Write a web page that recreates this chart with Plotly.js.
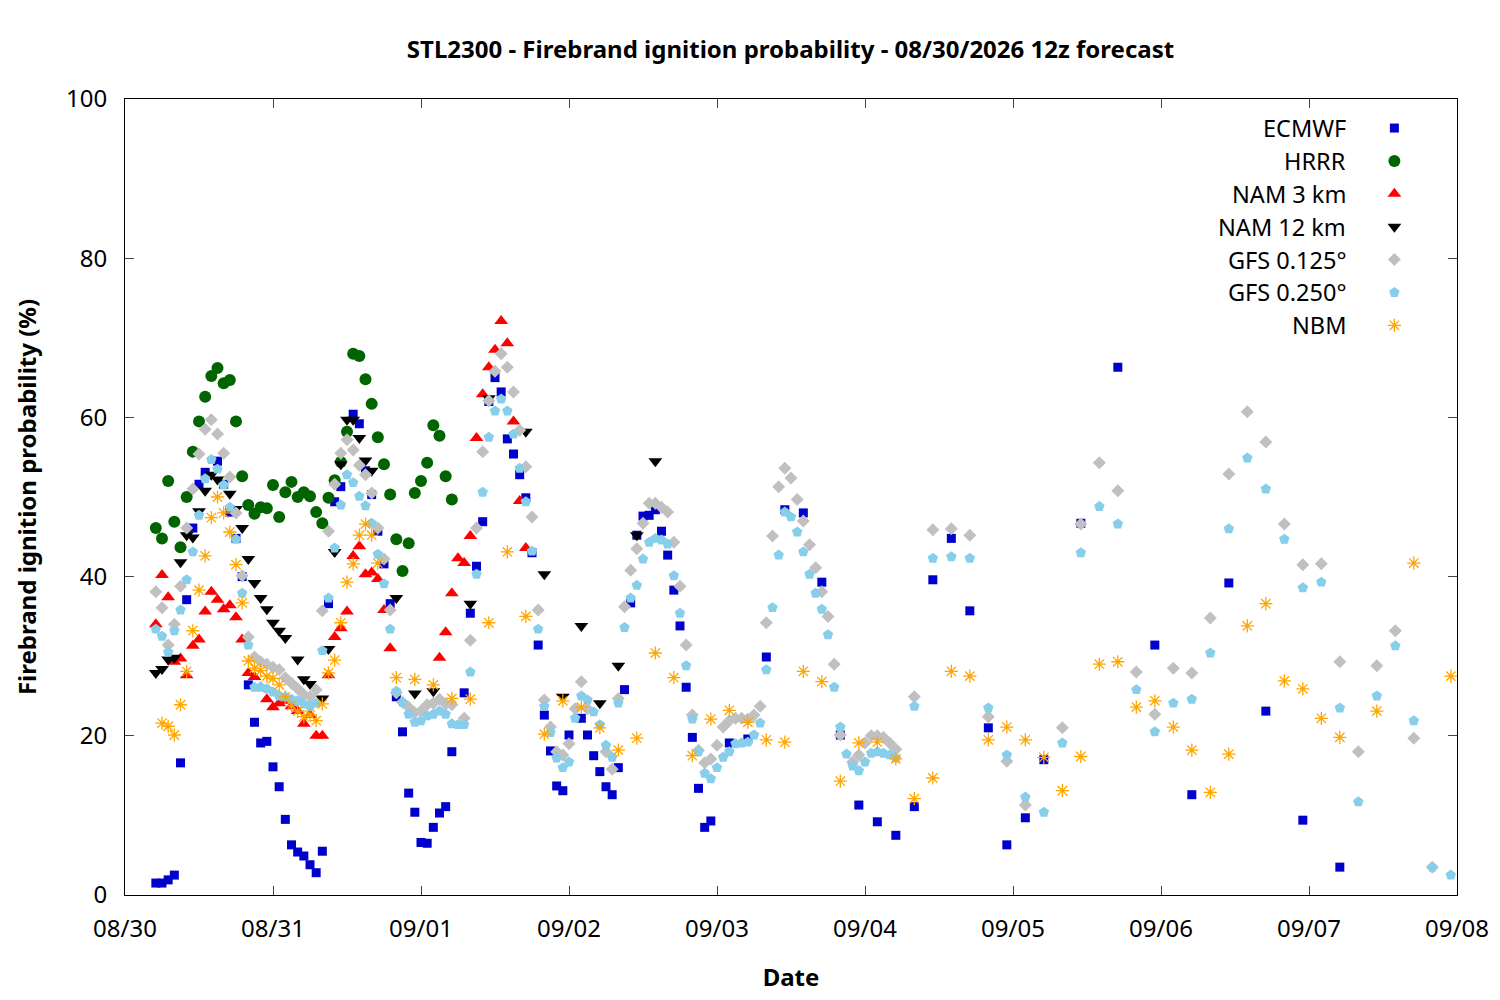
<!DOCTYPE html>
<html>
<head>
<meta charset="utf-8">
<script src="https://cdn.plot.ly/plotly-3.0.1.min.js"></script>
<style>body{margin:0;background:#fff}#chart{width:1500px;height:1000px}</style>
</head>
<body>
<div id="chart"></div>
<script>
// hours since 08/30 00, probability (%)
var dayLabels = ["08/30", "08/31", "09/01", "09/02", "09/03", "09/04", "09/05", "09/06", "09/07", "09/08"];

var ecmwfH = [5,6,7,8,9,10,11,12,13,15,16,17,18,19,20,21,22,23,24,25,26,27,28,29,30,31,32,33,34,35,37,38,39,40,41,42,43,44,45,46,47,48,49,50,51,52,53,55,56,57,58,59,60,61,62,63,64,65,66,67,68,69,70,71,72,74,75,76,77,78,79,80,81,82,83,84,85,86,87,88,89,90,91,92,93,94,95,98,101,104,107,110,113,116,119,122,125,128,131,134,137,140,143,146,149,155,161,167,173,179,185,191,197];
var ecmwfV = [1.5,1.5,1.9,2.5,16.6,37.1,46.1,51.6,53.1,54.5,51.6,48.1,44.8,40.0,26.4,21.7,19.1,19.3,16.1,13.6,9.5,6.3,5.4,4.9,3.8,2.8,5.5,36.6,49.4,51.3,60.4,59.2,53.3,50.3,45.7,41.6,36.6,24.9,20.5,12.8,10.4,6.6,6.5,8.5,10.3,11.1,18.0,25.4,35.4,41.3,46.9,62.0,65.0,63.2,57.3,55.4,52.8,49.9,43.0,31.4,22.6,18.1,13.7,13.1,20.1,22.2,20.1,17.5,15.5,13.6,12.6,16.0,25.8,36.7,45.2,47.6,47.7,48.4,45.7,42.7,38.3,33.8,26.1,19.8,13.4,8.5,9.3,19.1,19.6,29.9,48.4,48.0,39.3,20.1,11.3,9.2,7.5,11.1,39.6,44.8,35.7,21.0,6.3,9.7,17.0,46.7,66.3,31.4,12.6,39.2,23.1,9.4,3.5];

var hrrrH = [5,6,7,8,9,10,11,12,13,14,15,16,17,18,19,20,21,22,23,24,25,26,27,28,29,30,31,32,33,34,35,36,37,38,39,40,41,42,43,44,45,46,47,48,49,50,51,52,53];
var hrrrV = [46.1,44.8,52.0,46.9,43.7,50.0,55.7,59.5,62.6,65.2,66.2,64.3,64.7,59.5,52.6,49.0,47.9,48.7,48.6,51.5,47.5,50.6,51.9,50.0,50.6,50.1,48.1,46.7,49.9,52.1,54.4,58.2,68.0,67.7,64.8,61.7,57.5,54.1,50.3,44.7,40.7,44.2,50.5,52.0,54.3,59.0,57.7,52.6,49.7];

var nam3H = [5,6,7,8,9,10,11,12,13,14,15,16,17,18,19,20,21,22,23,24,25,26,27,28,29,30,31,32,33,34,35,36,37,38,39,40,41,42,43,51,52,53,54,55,56,57,58,59,60,61,62,63,64,65];
var nam3V = [34.0,40.2,37.4,29.3,29.7,27.6,31.3,32.1,35.6,38.1,37.1,35.9,36.4,34.9,32.1,27.9,27.4,26.1,24.6,23.6,24.1,24.4,23.7,23.1,21.5,22.6,20.0,20.0,27.6,32.4,33.5,35.6,42.6,43.8,40.3,40.5,39.7,35.8,31.0,29.8,33.0,37.9,42.3,41.7,45.1,57.4,62.9,66.3,68.5,72.1,69.3,59.5,49.5,43.6];

var nam12H = [5,6,7,8,9,10,11,12,13,14,15,17,18,19,20,21,22,23,24,25,26,28,29,30,32,33,34,35,36,37,38,39,40,44,47,50,56,59,65,68,71,74,77,80,83,86];
var nam12V = [27.9,28.4,29.6,29.8,41.8,45.2,44.9,48.2,50.8,52.8,52.2,50.4,48.5,46.1,42.2,39.2,37.3,35.9,34.2,33.2,32.3,29.6,27.1,26.5,24.7,30.9,43.1,54.1,59.7,59.7,57.4,54.6,53.3,37.3,25.3,25.6,36.6,62.4,58.2,40.3,24.9,33.8,24.1,28.8,45.2,54.5];

var gfs125H = [5,6,7,8,9,10,11,12,13,14,15,16,17,18,19,20,21,22,23,24,25,26,27,28,29,30,31,32,33,34,35,36,37,38,39,40,41,42,43,44,45,46,47,48,49,50,51,52,53,55,56,57,58,59,60,61,62,63,64,65,66,67,68,69,70,71,72,73,74,75,78,79,80,81,82,83,84,85,86,87,88,89,90,91,92,93,94,95,96,97,98,99,100,101,102,103,104,105,106,107,108,109,110,111,112,113,114,115,116,118,119,120,121,122,123,124,125,128,131,134,137,140,143,146,152,155,158,161,164,167,170,173,176,179,182,185,188,191,194,197,200,203,206,209,212];
var gfs125V = [38.1,36.1,31.4,34.0,38.8,46.1,51.0,55.4,58.5,59.7,57.9,55.5,52.5,48.0,40.1,32.4,29.9,29.3,29.0,28.6,28.3,27.3,26.6,25.9,25.2,24.9,25.8,35.7,45.7,51.6,55.5,57.2,55.9,54.0,52.8,50.5,46.1,42.2,35.8,25.4,24.2,23.6,22.9,23.1,23.9,24.1,24.6,24.0,23.9,22.2,32.0,46.1,55.7,62.1,65.8,68.0,66.3,63.2,58.4,53.8,47.5,35.8,24.5,21.1,18.0,17.6,19.0,23.4,26.8,23.4,18.0,15.8,24.7,36.2,40.8,43.5,46.7,49.2,49.2,48.7,48.1,44.3,38.8,31.4,22.6,18.2,16.6,17.1,18.8,21.1,21.9,22.2,22.2,22.1,22.6,23.7,34.2,45.1,51.3,53.6,52.4,49.7,47.0,44.0,41.1,38.1,35.0,29.0,20.1,16.7,17.6,19.1,20.0,20.0,19.8,19.1,18.3,24.9,45.9,46.0,45.2,22.4,16.8,11.3,21.0,46.6,54.3,50.8,28.0,22.7,28.5,27.9,34.8,52.9,60.7,56.9,46.6,41.5,41.6,29.3,18.0,28.8,33.2,19.7,3.5];

var gfs250H = [5,6,7,8,9,10,11,12,13,14,15,16,17,18,19,20,21,22,23,24,25,26,27,28,29,30,31,32,33,34,35,36,37,38,39,40,41,42,43,44,45,46,47,48,49,50,51,52,53,54,55,56,57,58,59,60,61,62,63,64,65,66,67,68,69,70,71,72,73,74,75,76,77,78,79,80,81,82,83,84,85,86,87,88,89,90,91,92,93,94,95,96,97,98,99,100,101,102,103,104,105,106,107,108,109,110,111,112,113,114,115,116,117,118,119,120,121,122,123,124,125,128,131,134,137,140,143,146,149,152,155,158,161,164,167,170,173,176,179,182,185,188,191,194,197,200,203,206,209,212,215];
var gfs250V = [33.4,32.5,30.5,33.2,35.8,39.6,43.1,47.7,52.3,54.7,53.5,51.5,48.7,44.7,37.9,31.4,26.1,26.1,25.9,25.5,25.0,24.9,24.6,24.4,24.0,23.7,24.1,30.7,37.3,43.6,49.0,52.8,51.8,50.1,48.9,46.7,42.8,39.1,33.4,25.6,24.2,22.7,21.7,21.9,22.5,22.7,23.1,22.7,21.5,21.4,21.4,28.0,40.3,50.6,57.5,60.8,62.3,60.8,57.9,53.6,49.4,43.2,33.4,23.7,20.4,17.2,16.0,16.7,22.2,25.0,24.5,23.0,21.4,18.8,17.3,24.1,33.6,37.3,38.9,42.2,44.3,44.8,44.6,44.1,40.1,35.4,28.8,22.1,18.0,15.3,14.6,16.0,17.3,18.0,19.0,19.1,19.2,20.1,21.6,28.3,36.1,42.7,48.1,47.5,45.6,43.1,40.3,37.9,35.9,32.7,26.1,21.1,17.7,16.2,15.6,16.7,17.8,18.0,17.8,17.6,17.2,23.7,42.3,42.5,42.3,23.5,17.6,12.3,10.4,19.1,43.0,48.8,46.6,25.8,20.5,24.1,24.6,30.4,46.0,54.9,51.0,44.7,38.6,39.3,23.5,11.7,25.0,31.3,21.9,3.5,2.5];

var nbmH = [6,7,8,9,10,11,12,13,14,15,16,17,18,19,20,21,22,23,24,25,26,27,28,29,30,31,32,33,34,35,36,37,38,39,40,41,44,47,50,53,56,59,62,65,68,71,74,77,80,83,86,89,92,95,98,101,104,107,110,113,116,119,122,125,128,131,134,137,140,143,146,149,152,155,158,161,164,167,170,173,176,179,182,185,188,191,194,197,203,209,215];
var nbmV = [21.6,21.2,20.1,23.9,28.1,33.2,38.3,42.6,47.4,50.0,48.0,45.6,41.5,36.7,29.4,28.5,28.2,27.5,27.2,26.4,24.9,23.8,23.1,22.4,22.6,21.9,24.0,27.9,29.5,34.2,39.3,41.6,45.2,46.6,45.2,41.7,27.3,27.1,26.4,24.7,24.6,34.2,43.1,35.0,20.2,24.4,23.6,21.0,18.2,19.7,30.4,27.3,17.5,22.1,23.2,21.7,19.5,19.2,28.1,26.8,14.3,19.1,19.2,17.1,12.1,14.7,28.1,27.5,19.5,21.1,19.5,17.3,13.1,17.4,29.0,29.3,23.6,24.4,21.1,18.2,12.9,17.7,33.8,36.6,26.9,25.9,22.2,19.8,23.1,41.7,27.5];

var seriesNames = ["ECMWF", "HRRR", "NAM 3 km", "NAM 12 km", "GFS 0.125°", "GFS 0.250°", "NBM"];
var seriesH = [ecmwfH, hrrrH, nam3H, nam12H, gfs125H, gfs250H, nbmH];
var seriesV = [ecmwfV, hrrrV, nam3V, nam12V, gfs125V, gfs250V, nbmV];
var markers = [
  { symbol: "square", color: "#0000cc", size: 9 },
  { symbol: "circle", color: "#006400", size: 12 },
  { symbol: "triangle-up", color: "#ff0000", size: 12 },
  { symbol: "triangle-down", color: "#000000", size: 12 },
  { symbol: "diamond", color: "#c0c0c0", size: 10 },
  { symbol: "pentagon", color: "#87ceeb", size: 11 },
  { symbol: "asterisk-open", color: "#ffa500", size: 11, line: { color: "#ffa500", width: 1.3 } }
];

var data = [];
var annotations = [];
for (var i = 0; i < seriesNames.length; i++) {
  data.push({
    x: seriesH[i], y: seriesV[i], mode: "markers", type: "scatter",
    name: seriesNames[i], marker: markers[i], showlegend: false
  });
}
// gnuplot-style key: text right-aligned, symbol on its right
for (var j = 0; j < seriesNames.length; j++) {
  var ky = 0.9635 - j * 0.0413;
  data.push({
    x: [0.953], y: [ky], xaxis: "x2", yaxis: "y2", mode: "markers", type: "scatter",
    marker: markers[j], showlegend: false, hoverinfo: "skip"
  });
  annotations.push({
    xref: "paper", yref: "paper", x: 0.918, y: ky, xanchor: "right", yanchor: "middle",
    text: seriesNames[j], showarrow: false, font: { size: 23.5, color: "#000" }
  });
}

var tickVals = [];
for (var d = 0; d < dayLabels.length; d++) tickVals.push(d * 24);

var layout = {
  width: 1500, height: 1000,
  margin: { l: 125, r: 43, t: 99, b: 105 },
  font: { family: "Noto Sans, Open Sans, sans-serif", size: 24, color: "#000" },
  title: { text: "<b>STL2300 - Firebrand ignition probability - 08/30/2026 12z forecast</b>", x: 0.527, y: 0.95, yanchor: "middle", font: { size: 24 } },
  xaxis: {
    range: [0, 216], tickvals: tickVals, ticktext: dayLabels,
    ticks: "inside", ticklen: 9, showline: true, mirror: "ticks", linecolor: "#000",
    ticklabelstandoff: 12,
    showgrid: false, zeroline: false,
    title: { text: "<b>Date</b>", font: { size: 24 }, standoff: 26 }
  },
  yaxis: {
    range: [0, 100], dtick: 20, ticks: "inside", ticklen: 9, showline: true, mirror: "ticks",
    linecolor: "#000", showgrid: false, zeroline: false, ticklabelstandoff: 12,
    title: { text: "<b>Firebrand ignition probability (%)</b>", font: { size: 24 }, standoff: 22 }
  },
  xaxis2: { overlaying: "x", range: [0, 1], visible: false },
  yaxis2: { overlaying: "y", range: [0, 1], visible: false },
  annotations: annotations,
  showlegend: false,
  plot_bgcolor: "#fff", paper_bgcolor: "#fff"
};

Plotly.newPlot("chart", data, layout, { displayModeBar: false });
</script>
</body>
</html>
